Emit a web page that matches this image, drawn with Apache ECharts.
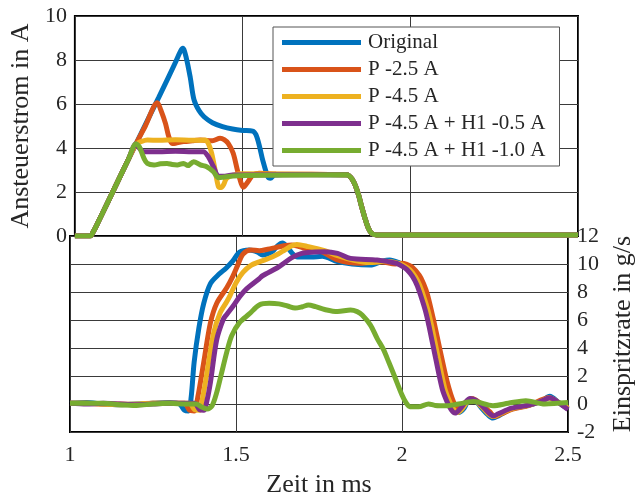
<!DOCTYPE html>
<html>
<head>
<meta charset="utf-8">
<script src="https://cdn.jsdelivr.net/npm/echarts@6/dist/echarts.min.js"></script>
<style>
html,body{margin:0;padding:0;background:#fff;overflow:hidden;}
#c{width:644px;height:499px;}
</style>
</head>
<body>
<div id="c"></div>
<script>
// ---------- data ----------
const seriesNames = ['Original', 'P -2.5 A', 'P -4.5 A', 'P -4.5 A + H1 -0.5 A', 'P -4.5 A + H1 -1.0 A'];
const colors = ['#0072BD', '#D95319', '#EDB120', '#7E2F8E', '#77AC30'];

const xTicks = [1, 1.5, 2, 2.5];
const yTicksCurrent = [0, 2, 4, 6, 8, 10];
const yTicksRate = [-2, 0, 2, 4, 6, 8, 10, 12];

// Ansteuerstrom (A) – [time ms, current A]
const riseCommon = [[1.0,0],[1.045,0],[1.055,0.2],[1.07,0.65],[1.10,1.6],[1.13,2.55],[1.16,3.5],[1.182,4.18]];
const fallCommon = [[1.81,2.78],[1.816,2.75],[1.826,2.6],[1.836,2.3],[1.846,1.85],[1.855,1.33],[1.865,0.8],[1.875,0.35],[1.885,0.12],[1.9,0.05],[2.5,0.05]];

const curOriginal = [[1.20,4.75],[1.25,6.3],[1.30,7.9],[1.315,8.4],[1.322,8.53],[1.332,8.1],[1.344,7.2],[1.355,6.2],[1.37,5.7],[1.385,5.42],[1.41,5.15],[1.44,4.97],[1.47,4.86],[1.50,4.8],[1.53,4.77],[1.54,4.6],[1.55,4.1],[1.56,3.45],[1.575,2.7],[1.583,2.62],[1.595,2.78],[1.62,2.8]];
const curP25 = [[1.21,5.0],[1.246,6.06],[1.256,5.73],[1.27,5.12],[1.28,4.51],[1.29,4.21],[1.30,4.22],[1.324,4.29],[1.35,4.33],[1.374,4.36],[1.41,4.33],[1.433,4.44],[1.445,4.38],[1.457,4.21],[1.472,3.76],[1.487,2.85],[1.503,2.22],[1.516,2.47],[1.531,2.77],[1.55,2.85],[1.6,2.82]];
const curP45 = [[1.197,4.29],[1.216,4.36],[1.25,4.35],[1.30,4.37],[1.35,4.35],[1.388,4.36],[1.398,4.2],[1.408,3.75],[1.418,3.0],[1.428,2.24],[1.436,2.2],[1.444,2.35],[1.452,2.62],[1.472,2.77],[1.50,2.83]];
const curH05 = [[1.195,3.95],[1.206,3.83],[1.25,3.83],[1.30,3.85],[1.35,3.83],[1.383,3.83],[1.398,3.6],[1.413,3.15],[1.428,2.72],[1.442,2.72],[1.47,2.77]];
const curH10 = [[1.192,4.06],[1.206,3.53],[1.216,3.3],[1.236,3.23],[1.255,3.28],[1.275,3.3],[1.29,3.25],[1.305,3.23],[1.324,3.3],[1.337,3.2],[1.354,3.38],[1.374,3.23],[1.393,3.15],[1.413,2.92],[1.428,2.65],[1.442,2.67],[1.472,2.73],[1.57,2.76]];

// Einspritzrate (g/s) – [time ms, rate g/s]
const rateOriginal = [[1.0,0.05],[1.05,0.1],[1.1,0.0],[1.15,-0.05],[1.2,0.0],[1.25,0.05],[1.3,0.1],[1.33,0.0],[1.345,-0.45],[1.357,-0.5],[1.365,0.5],[1.374,3.0],[1.388,5.4],[1.403,7.2],[1.423,8.6],[1.45,9.3],[1.47,9.7],[1.49,10.2],[1.511,10.85],[1.54,11.0],[1.565,10.85],[1.58,10.65],[1.61,10.9],[1.625,11.3],[1.64,11.5],[1.655,11.2],[1.668,10.8],[1.685,10.5],[1.727,10.5],[1.76,10.55],[1.806,10.17],[1.85,10.0],[1.905,9.93],[1.94,10.2],[1.963,10.29],[1.995,10.05],[2.012,9.85],[2.027,9.6],[2.044,9.1],[2.057,8.5],[2.069,7.7],[2.082,6.7],[2.093,5.6],[2.113,3.3],[2.133,1.1],[2.147,0.2],[2.16,-0.4],[2.172,-0.6],[2.187,-0.3],[2.2,0.25],[2.215,0.3],[2.24,-0.3],[2.26,-0.8],[2.274,-1.0],[2.29,-0.85],[2.33,-0.35],[2.38,-0.1],[2.42,0.2],[2.445,0.55],[2.472,0.1],[2.5,-0.35]];
const rateP25 = [[1.0,0.05],[1.05,0.05],[1.1,0.0],[1.15,0.0],[1.2,-0.05],[1.25,0.05],[1.3,0.05],[1.345,0.05],[1.36,-0.45],[1.374,-0.5],[1.385,0.5],[1.403,3.0],[1.423,5.8],[1.442,7.2],[1.472,8.3],[1.49,9.1],[1.505,9.9],[1.521,10.7],[1.545,11.0],[1.57,10.95],[1.595,11.05],[1.619,11.17],[1.645,11.3],[1.668,11.36],[1.69,11.25],[1.708,11.12],[1.757,10.88],[1.806,10.29],[1.84,10.1],[1.875,10.05],[1.934,10.16],[1.98,10.0],[2.0,10.05],[2.012,10.0],[2.03,9.8],[2.052,9.2],[2.065,8.6],[2.077,7.8],[2.096,5.9],[2.116,3.7],[2.136,1.6],[2.155,0.17],[2.17,-0.31],[2.19,0.05],[2.21,0.4],[2.239,0.0],[2.264,-0.55],[2.28,-0.9],[2.3,-0.7],[2.333,-0.36],[2.383,-0.1],[2.442,0.45],[2.472,0.1],[2.5,-0.3]];
const rateP45 = [[1.0,0.05],[1.05,0.05],[1.1,0.0],[1.15,-0.05],[1.2,0.0],[1.25,0.05],[1.3,0.05],[1.36,0.05],[1.375,-0.4],[1.39,-0.45],[1.4,0.5],[1.413,2.3],[1.433,5.1],[1.452,6.5],[1.472,7.3],[1.482,7.74],[1.501,8.7],[1.521,9.4],[1.545,9.9],[1.57,10.15],[1.609,10.5],[1.64,10.9],[1.668,11.3],[1.683,11.4],[1.718,11.24],[1.767,10.95],[1.806,10.6],[1.85,10.3],[1.9,10.1],[1.95,10.2],[1.991,10.05],[2.008,9.85],[2.023,9.6],[2.04,9.1],[2.053,8.5],[2.065,7.7],[2.078,6.7],[2.089,5.6],[2.109,3.3],[2.129,1.1],[2.143,0.2],[2.156,-0.4],[2.168,-0.6],[2.183,-0.3],[2.198,0.2],[2.213,0.35],[2.24,-0.2],[2.26,-0.7],[2.275,-0.9],[2.29,-0.75],[2.33,-0.35],[2.38,-0.1],[2.42,0.2],[2.445,0.45],[2.472,0.1],[2.5,-0.3]];
const rateH05 = [[1.0,0.05],[1.05,0.0],[1.1,0.05],[1.15,0.0],[1.2,-0.05],[1.25,0.0],[1.3,0.05],[1.375,0.05],[1.39,-0.4],[1.403,-0.45],[1.413,0.3],[1.423,1.55],[1.442,4.6],[1.462,6.07],[1.472,6.4],[1.492,7.02],[1.511,7.67],[1.531,8.21],[1.57,8.95],[1.58,9.16],[1.629,9.8],[1.668,10.45],[1.698,10.76],[1.737,10.85],[1.767,10.88],[1.806,10.76],[1.845,10.4],[1.925,10.29],[1.983,10.05],[2.0,9.85],[2.015,9.6],[2.032,9.1],[2.045,8.5],[2.057,7.7],[2.07,6.7],[2.081,5.6],[2.101,3.3],[2.121,1.1],[2.135,0.2],[2.148,-0.4],[2.16,-0.65],[2.175,-0.35],[2.19,0.1],[2.205,0.4],[2.22,0.3],[2.24,-0.1],[2.26,-0.6],[2.275,-0.85],[2.29,-0.7],[2.33,-0.3],[2.38,-0.1],[2.42,0.2],[2.445,0.45],[2.472,0.1],[2.5,-0.4]];
const rateH10 = [[1.0,0.05],[1.05,0.05],[1.1,0.05],[1.15,-0.05],[1.2,-0.1],[1.25,0.0],[1.3,0.05],[1.35,0.0],[1.38,0.0],[1.395,-0.2],[1.413,-0.36],[1.428,-0.12],[1.442,0.83],[1.457,2.26],[1.472,3.69],[1.487,4.88],[1.511,5.83],[1.54,6.43],[1.57,7.07],[1.6,7.19],[1.629,7.15],[1.655,7.0],[1.678,6.85],[1.70,6.95],[1.718,7.07],[1.74,6.95],[1.767,6.75],[1.806,6.6],[1.845,6.71],[1.865,6.6],[1.88,6.36],[1.905,5.64],[1.925,4.69],[1.944,3.9],[1.96,3.0],[1.976,2.07],[2.0,0.64],[2.012,0.1],[2.024,-0.19],[2.05,-0.2],[2.08,0.0],[2.1,-0.1],[2.137,-0.12],[2.17,0.0],[2.216,0.17],[2.274,-0.12],[2.32,0.05],[2.373,0.24],[2.43,0.0],[2.5,0.1]];

// ---------- chart ----------
const FONT = 'Liberation Serif';
const TXT = '#262626';
const currents = [curOriginal, curP25, curP45, curH05, curH10].map(c => riseCommon.concat(c, fallCommon));
const rates = [rateOriginal, rateP25, rateP45, rateH05, rateH10];

const splitStyle = {show: true, lineStyle: {color: '#3a3a3a', width: 1}};
const series = [];
seriesNames.forEach((n, i) => {
  series.push({name: n, type: 'line', xAxisIndex: 0, yAxisIndex: 0, data: currents[i],
    showSymbol: false, smooth: 0.3, lineStyle: {width: 5, color: colors[i]}, itemStyle: {color: colors[i]}, z: 2 + i});
});
seriesNames.forEach((n, i) => {
  series.push({name: n, type: 'line', xAxisIndex: 1, yAxisIndex: 1, data: rates[i],
    showSymbol: false, smooth: 0.3, lineStyle: {width: 5, color: colors[i]}, itemStyle: {color: colors[i]}, z: 2 + i});
});

const chart = echarts.init(document.getElementById('c'), null, {renderer: 'canvas'});
chart.setOption({
  animation: false,
  backgroundColor: '#fff',
  textStyle: {fontFamily: FONT},
  grid: [
    {left: 70, right: 66, top: 16, height: 220, show: true, borderColor: '#000', borderWidth: 2, backgroundColor: 'transparent'},
    {left: 70, right: 66, top: 236, height: 197, show: true, borderColor: '#000', borderWidth: 2, backgroundColor: 'transparent'}
  ],
  legend: {
    data: seriesNames, orient: 'vertical', left: 273, top: 27,
    backgroundColor: '#fff', borderColor: '#555', borderWidth: 1, borderRadius: 0,
    padding: [5, 14, 5, 9], itemWidth: 79, itemHeight: 5, itemGap: 6, icon: 'rect',
    textStyle: {fontFamily: FONT, fontSize: 21, color: TXT, lineHeight: 21, padding: [0, 0, 0, 2]},
    z: 20
  },
  xAxis: [
    {type: 'value', gridIndex: 0, min: xTicks[0], max: xTicks[xTicks.length - 1], interval: 0.5,
      axisLine: {show: false}, axisTick: {show: false}, axisLabel: {show: false}, splitLine: splitStyle},
    {type: 'value', gridIndex: 1, min: xTicks[0], max: xTicks[xTicks.length - 1], interval: 0.5,
      axisLine: {show: false}, axisTick: {show: false},
      axisLabel: {fontFamily: FONT, fontSize: 22, color: TXT, margin: 12},
      splitLine: splitStyle,
      name: 'Zeit in ms', nameLocation: 'middle', nameGap: 40,
      nameTextStyle: {fontFamily: FONT, fontSize: 26, color: TXT}}
  ],
  yAxis: [
    {type: 'value', gridIndex: 0, min: yTicksCurrent[0], max: yTicksCurrent[yTicksCurrent.length - 1], interval: 2,
      position: 'left', axisLine: {show: false}, axisTick: {show: false},
      axisLabel: {fontFamily: FONT, fontSize: 22, color: TXT, margin: 8},
      splitLine: splitStyle,
      name: 'Ansteuerstrom in A', nameLocation: 'middle', nameGap: 37, nameRotate: 90,
      nameTextStyle: {fontFamily: FONT, fontSize: 26, color: TXT}},
    {type: 'value', gridIndex: 1, min: yTicksRate[0], max: yTicksRate[yTicksRate.length - 1], interval: 2,
      position: 'right', axisLine: {show: false}, axisTick: {show: false},
      axisLabel: {fontFamily: FONT, fontSize: 22, color: TXT, margin: 9},
      splitLine: splitStyle,
      name: 'Einspritzrate in g/s', nameLocation: 'middle', nameGap: 42, nameRotate: 90,
      nameTextStyle: {fontFamily: FONT, fontSize: 26, color: TXT}}
  ],
  series: series
});
</script>
</body>
</html>
